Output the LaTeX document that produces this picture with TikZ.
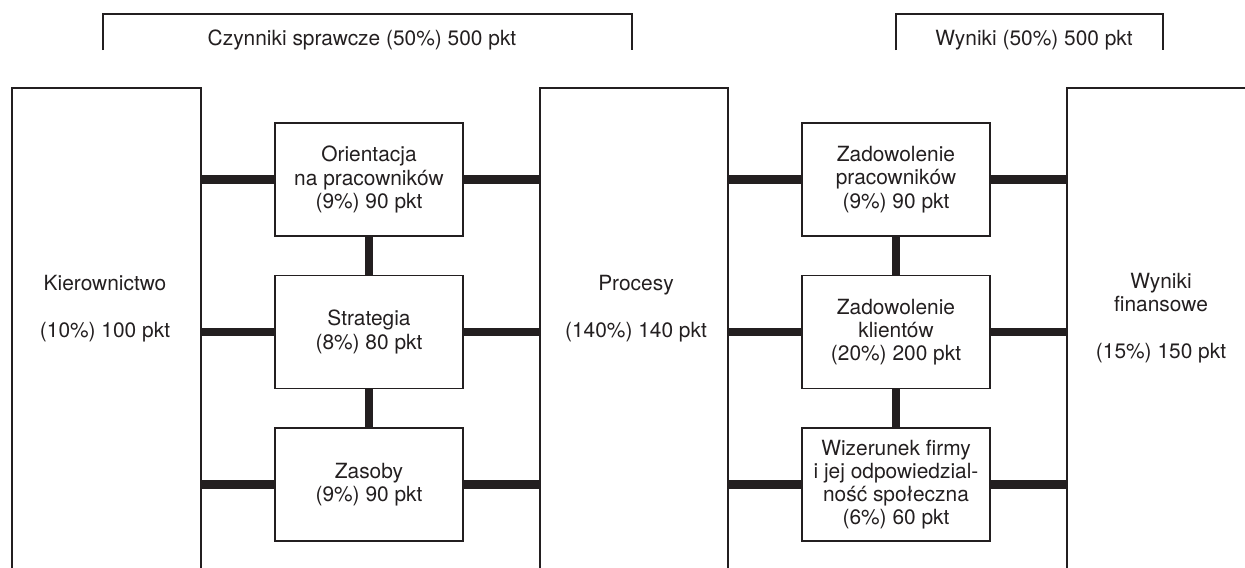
\documentclass[tikz,border=0pt]{standalone}
\usepackage{fontspec}
\setmainfont{TeX Gyre Heros}
\usetikzlibrary{positioning}
\definecolor{ink}{RGB}{35,31,32}

\tikzset{
  bigbox/.style={draw=ink,line width=0.9pt,minimum width=3.78cm,minimum height=10.6cm,anchor=north west,inner sep=0pt},
  smallbox/.style={draw=ink,line width=0.9pt,minimum width=3.76cm,minimum height=2.26cm,align=center,inner sep=0pt,text=ink},
  boxtext/.style={text=ink,align=center,inner sep=0pt},
  link/.style={draw=ink,line width=4.9pt}
}

\begin{document}
\begin{tikzpicture}[x=0.02cm,y=-0.02cm,font=\fontsize{11.9}{13.2}\selectfont]
  \useasboundingbox (0,0) rectangle (1245,568);
  \clip (0,0) rectangle (1245,568);

  % brackets on top
  \draw[ink,line width=0.9pt] (103,50) |- (632,14) -- (632,50);
  \node[boxtext,anchor=base] (czyn) at (362,46) {Czynniki sprawcze (50\%) 500 pkt};
  \draw[ink,line width=0.9pt] (896,50) |- (1163,14) -- (1163,50);
  \node[boxtext,anchor=base] (wyn) at (1034,46) {Wyniki (50\%) 500 pkt};

  % big boxes (open at the bottom)
  \node[bigbox] (kier) at (11,87) {};
  \node[bigbox,minimum width=3.76cm] (proc) at (539,87) {};
  \node[bigbox,minimum width=4.2cm] (fin) at (1066,87) {};
  \node[boxtext] (kiertxt) at (105,308.5) {Kierownictwo\\[\baselineskip](10\%) 100 pkt};
  \node[boxtext] (proctxt) at (636,308.5) {Procesy\\[\baselineskip](140\%) 140 pkt};
  \node[boxtext] (fintxt) at (1161,318) {Wyniki\\finansowe\\[\baselineskip](15\%) 150 pkt};

  % small boxes
  \node[smallbox] (orient) at (369,179.5) {Orientacja\\na pracowników\\(9\%) 90 pkt};
  \node[smallbox,below=0.76cm of orient] (strat) {Strategia\\(8\%) 80 pkt};
  \node[smallbox,below=0.76cm of strat] (zas) {Zasoby\\(9\%) 90 pkt};
  \node[smallbox] (zadprac) at (896,179.5) {Zadowolenie\\pracowników\\(9\%) 90 pkt};
  \node[smallbox,below=0.76cm of zadprac] (zadkl) {Zadowolenie\\klientów\\(20\%) 200 pkt};
  \node[smallbox,below=0.76cm of zadkl] (wiz) {Wizerunek firmy\\i jej odpowiedzial-\\ność społeczna\\(6\%) 60 pkt};

  % thick links
  \foreach \b in {orient,strat,zas} {
    \draw[link] (kier.east |- \b.west) -- (\b.west);
    \draw[link] (\b.east) -- (proc.west |- \b.east);
  }
  \foreach \b in {zadprac,zadkl,wiz} {
    \draw[link] (proc.east |- \b.west) -- (\b.west);
    \draw[link] (\b.east) -- (fin.west |- \b.east);
  }
  \draw[link,line width=4.5pt] (orient) -- (strat);
  \draw[link,line width=4.5pt] (strat) -- (zas);
  \draw[link,line width=4.5pt] (zadprac) -- (zadkl);
  \draw[link,line width=4.5pt] (zadkl) -- (wiz);
\end{tikzpicture}
\end{document}
